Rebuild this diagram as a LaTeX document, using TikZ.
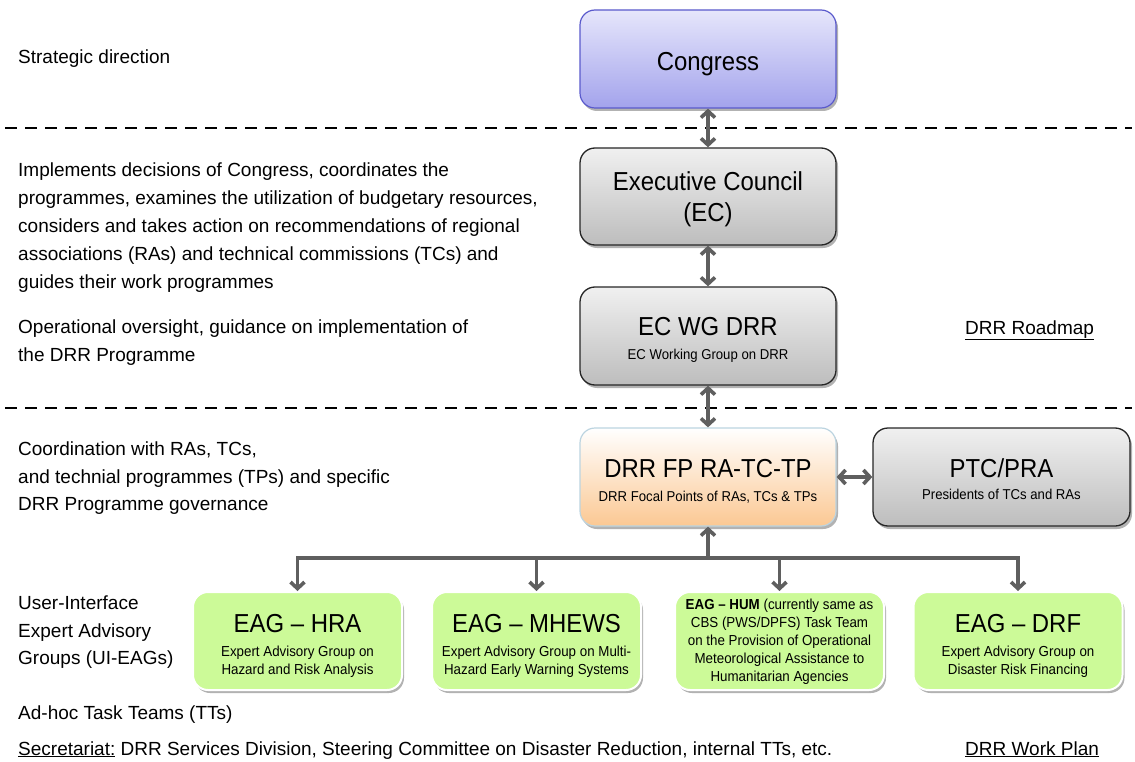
\documentclass[tikz,border=0pt]{standalone}
\usepackage{fontspec}
\setmainfont{Liberation Sans}[Ligatures=TeX]
\newfontfamily\nf{Liberation Sans}[FakeStretch=0.92,Ligatures=TeX]
\usetikzlibrary{arrows.meta,shadows}
\definecolor{arrowgray}{HTML}{5F5F5F}
\definecolor{lavtop}{HTML}{E6E6FB}
\definecolor{lavbot}{HTML}{A3A3EC}
\definecolor{lavline}{HTML}{5A5ACC}
\definecolor{graytop}{HTML}{F0F0F0}
\definecolor{graybot}{HTML}{BDBDBD}
\definecolor{peachbot}{HTML}{FBC893}
\definecolor{fpline}{HTML}{BCD4E0}
\definecolor{eaggreen}{HTML}{CCFA98}
\tikzset{
  box/.style={rounded corners=15pt, minimum width=256pt, minimum height=98pt, inner sep=0pt,
    drop shadow={shadow xshift=2pt, shadow yshift=-3pt, fill=black, opacity=0.3}},
  lavbox/.style={box, draw=lavline, line width=1.2pt, top color=lavtop, bottom color=lavbot},
  graybox/.style={box, draw=black!85, line width=1.3pt, top color=graytop, bottom color=graybot},
  fpbox/.style={box, draw=fpline, line width=1.2pt, top color=white, bottom color=peachbot},
  eagbox/.style={box, minimum width=209pt, draw=white, line width=2pt, fill=eaggreen},
  ttl/.style={anchor=base, inner sep=0pt, font=\nf\fontsize{26}{31}\selectfont},
  sub/.style={anchor=base, inner sep=0pt, font=\nf\fontsize{14.3}{18}\selectfont},
  gsub/.style={anchor=base, inner sep=0pt, font=\nf\fontsize{14.5}{18}\selectfont},
  lt/.style={anchor=base west, inner sep=0pt, font=\fontsize{19}{27.75}\selectfont},
  conn/.style={draw=arrowgray, line width=3.6pt},
  dbl/.style={conn, {Straight Barb[length=6.5pt,width=14pt]}-{Straight Barb[length=6.5pt,width=14pt]}},
  onearr/.style={conn, -{Straight Barb[length=6.5pt,width=14pt]}},
  sep/.style={draw=black, line width=2.2pt, dash pattern=on 12pt off 8pt}
}
\begin{document}
\begin{tikzpicture}[x=1pt,y=-1pt]
\useasboundingbox (0,0) rectangle (1135,762);
% separators
\coordinate (s1a) at (5,128); \coordinate (s1b) at (1132,128);
\coordinate (s2a) at (5,408); \coordinate (s2b) at (1132,408);
\draw[sep] (s1a) -- (s1b);
\draw[sep] (s2a) -- (s2b);
% boxes
\node[lavbox] (congress) at (708,59) {};
\node[graybox, minimum height=97pt] (ec) at (708,196.5) {};
\node[graybox] (ecwg) at (708,336) {};
\node[fpbox] (fp) at (708,477) {};
\node[graybox, minimum width=257pt] (ptc) at (1001.5,477) {};
\node[eagbox] (hra) at (297.5,641) {};
\node[eagbox] (mhews) at (536.5,641) {};
\node[eagbox] (hum) at (779.5,641) {};
\node[eagbox] (drf) at (1018,641) {};
% box texts
\node[ttl] (congressT) at (708,71) {Congress};
\node[ttl] (ecT1) at (708,191) {Executive Council};
\node[ttl] (ecT2) at (708,222) {(EC)};
\node[ttl] (ecwgT) at (708,335) {EC WG DRR};
\node[sub] (ecwgS) at (708,359) {EC Working Group on DRR};
\node[ttl] (fpT) at (708,477) {DRR FP RA-TC-TP};
\node[sub] (fpS) at (708,501) {DRR Focal Points of RAs, TCs \& TPs};
\node[ttl] (ptcT) at (1001.5,477) {PTC/PRA};
\node[sub] (ptcS) at (1001.5,499) {Presidents of TCs and RAs};
\node[ttl] (hraT) at (297.5,632) {EAG – HRA};
\node[gsub] (hraS1) at (297.5,656) {Expert Advisory Group on};
\node[gsub] (hraS2) at (297.5,674) {Hazard and Risk Analysis};
\node[ttl] (mhewsT) at (536.5,632) {EAG – MHEWS};
\node[gsub] (mhewsS1) at (536.5,656) {Expert Advisory Group on Multi-};
\node[gsub] (mhewsS2) at (536.5,674) {Hazard Early Warning Systems};
\node[gsub] (humS1) at (779.5,609) {\textbf{EAG – HUM} (currently same as};
\node[gsub] (humS2) at (779.5,627) {CBS (PWS/DPFS) Task Team};
\node[gsub] (humS3) at (779.5,645) {on the Provision of Operational};
\node[gsub] (humS4) at (779.5,663) {Meteorological Assistance to};
\node[gsub] (humS5) at (779.5,681.5) {Humanitarian Agencies};
\node[ttl] (drfT) at (1018,632) {EAG – DRF};
\node[gsub] (drfS1) at (1018,656) {Expert Advisory Group on};
\node[gsub] (drfS2) at (1018,674) {Disaster Risk Financing};
% connectors
\draw[dbl] (congress.south) -- (ec.north);
\draw[dbl] (ec.south) -- (ecwg.north);
\draw[dbl] (ecwg.south) -- (fp.north);
\draw[dbl] (fp.east) -- (ptc.west);
\coordinate (j) at (708,558);
\draw[conn, {Straight Barb[length=6.5pt,width=14pt]}-] (fp.south) -- (j);
\draw[conn, line cap=rect] (hra.north |- j) -- (drf.north |- j);
\draw[onearr] (hra.north |- j) -- (hra.north);
\draw[onearr] (mhews.north |- j) -- (mhews.north);
\draw[onearr] (hum.north |- j) -- (hum.north);
\draw[onearr] (drf.north |- j) -- (drf.north);
% left texts
\node[lt] (t1) at (18,64) {Strategic direction};
\node[lt] (t2a) at (18,177) {Implements decisions of Congress, coordinates the};
\node[lt] (t2b) at (18,204.75) {programmes, examines the utilization of budgetary resources,};
\node[lt] (t2c) at (18,232.5) {considers and takes action on recommendations of regional};
\node[lt] (t2d) at (18,260.25) {associations (RAs) and technical commissions (TCs) and};
\node[lt] (t2e) at (18,288) {guides their work programmes};
\node[lt] (t3a) at (18,333) {Operational oversight, guidance on implementation of};
\node[lt] (t3b) at (18,361) {the DRR Programme};
\node[lt] (t4a) at (18,455) {Coordination with RAs, TCs,};
\node[lt] (t4b) at (18,483) {and technial programmes (TPs) and specific};
\node[lt] (t4c) at (18,510) {DRR Programme governance};
\node[lt] (t5a) at (18,609) {User-Interface};
\node[lt] (t5b) at (18,637) {Expert Advisory};
\node[lt] (t5c) at (18,664) {Groups (UI-EAGs)};
\node[lt] (t6) at (18,719) {Ad-hoc Task Teams (TTs)};
\node[lt] (t7) at (18,755) {\underline{Secretariat:} DRR Services Division, Steering Committee on Disaster Reduction, internal TTs, etc.};
\node[lt] (roadmap) at (965,334) {\underline{DRR Roadmap}};
\node[lt] (workplan) at (965,755) {\underline{DRR Work Plan}};
\end{tikzpicture}
\end{document}
